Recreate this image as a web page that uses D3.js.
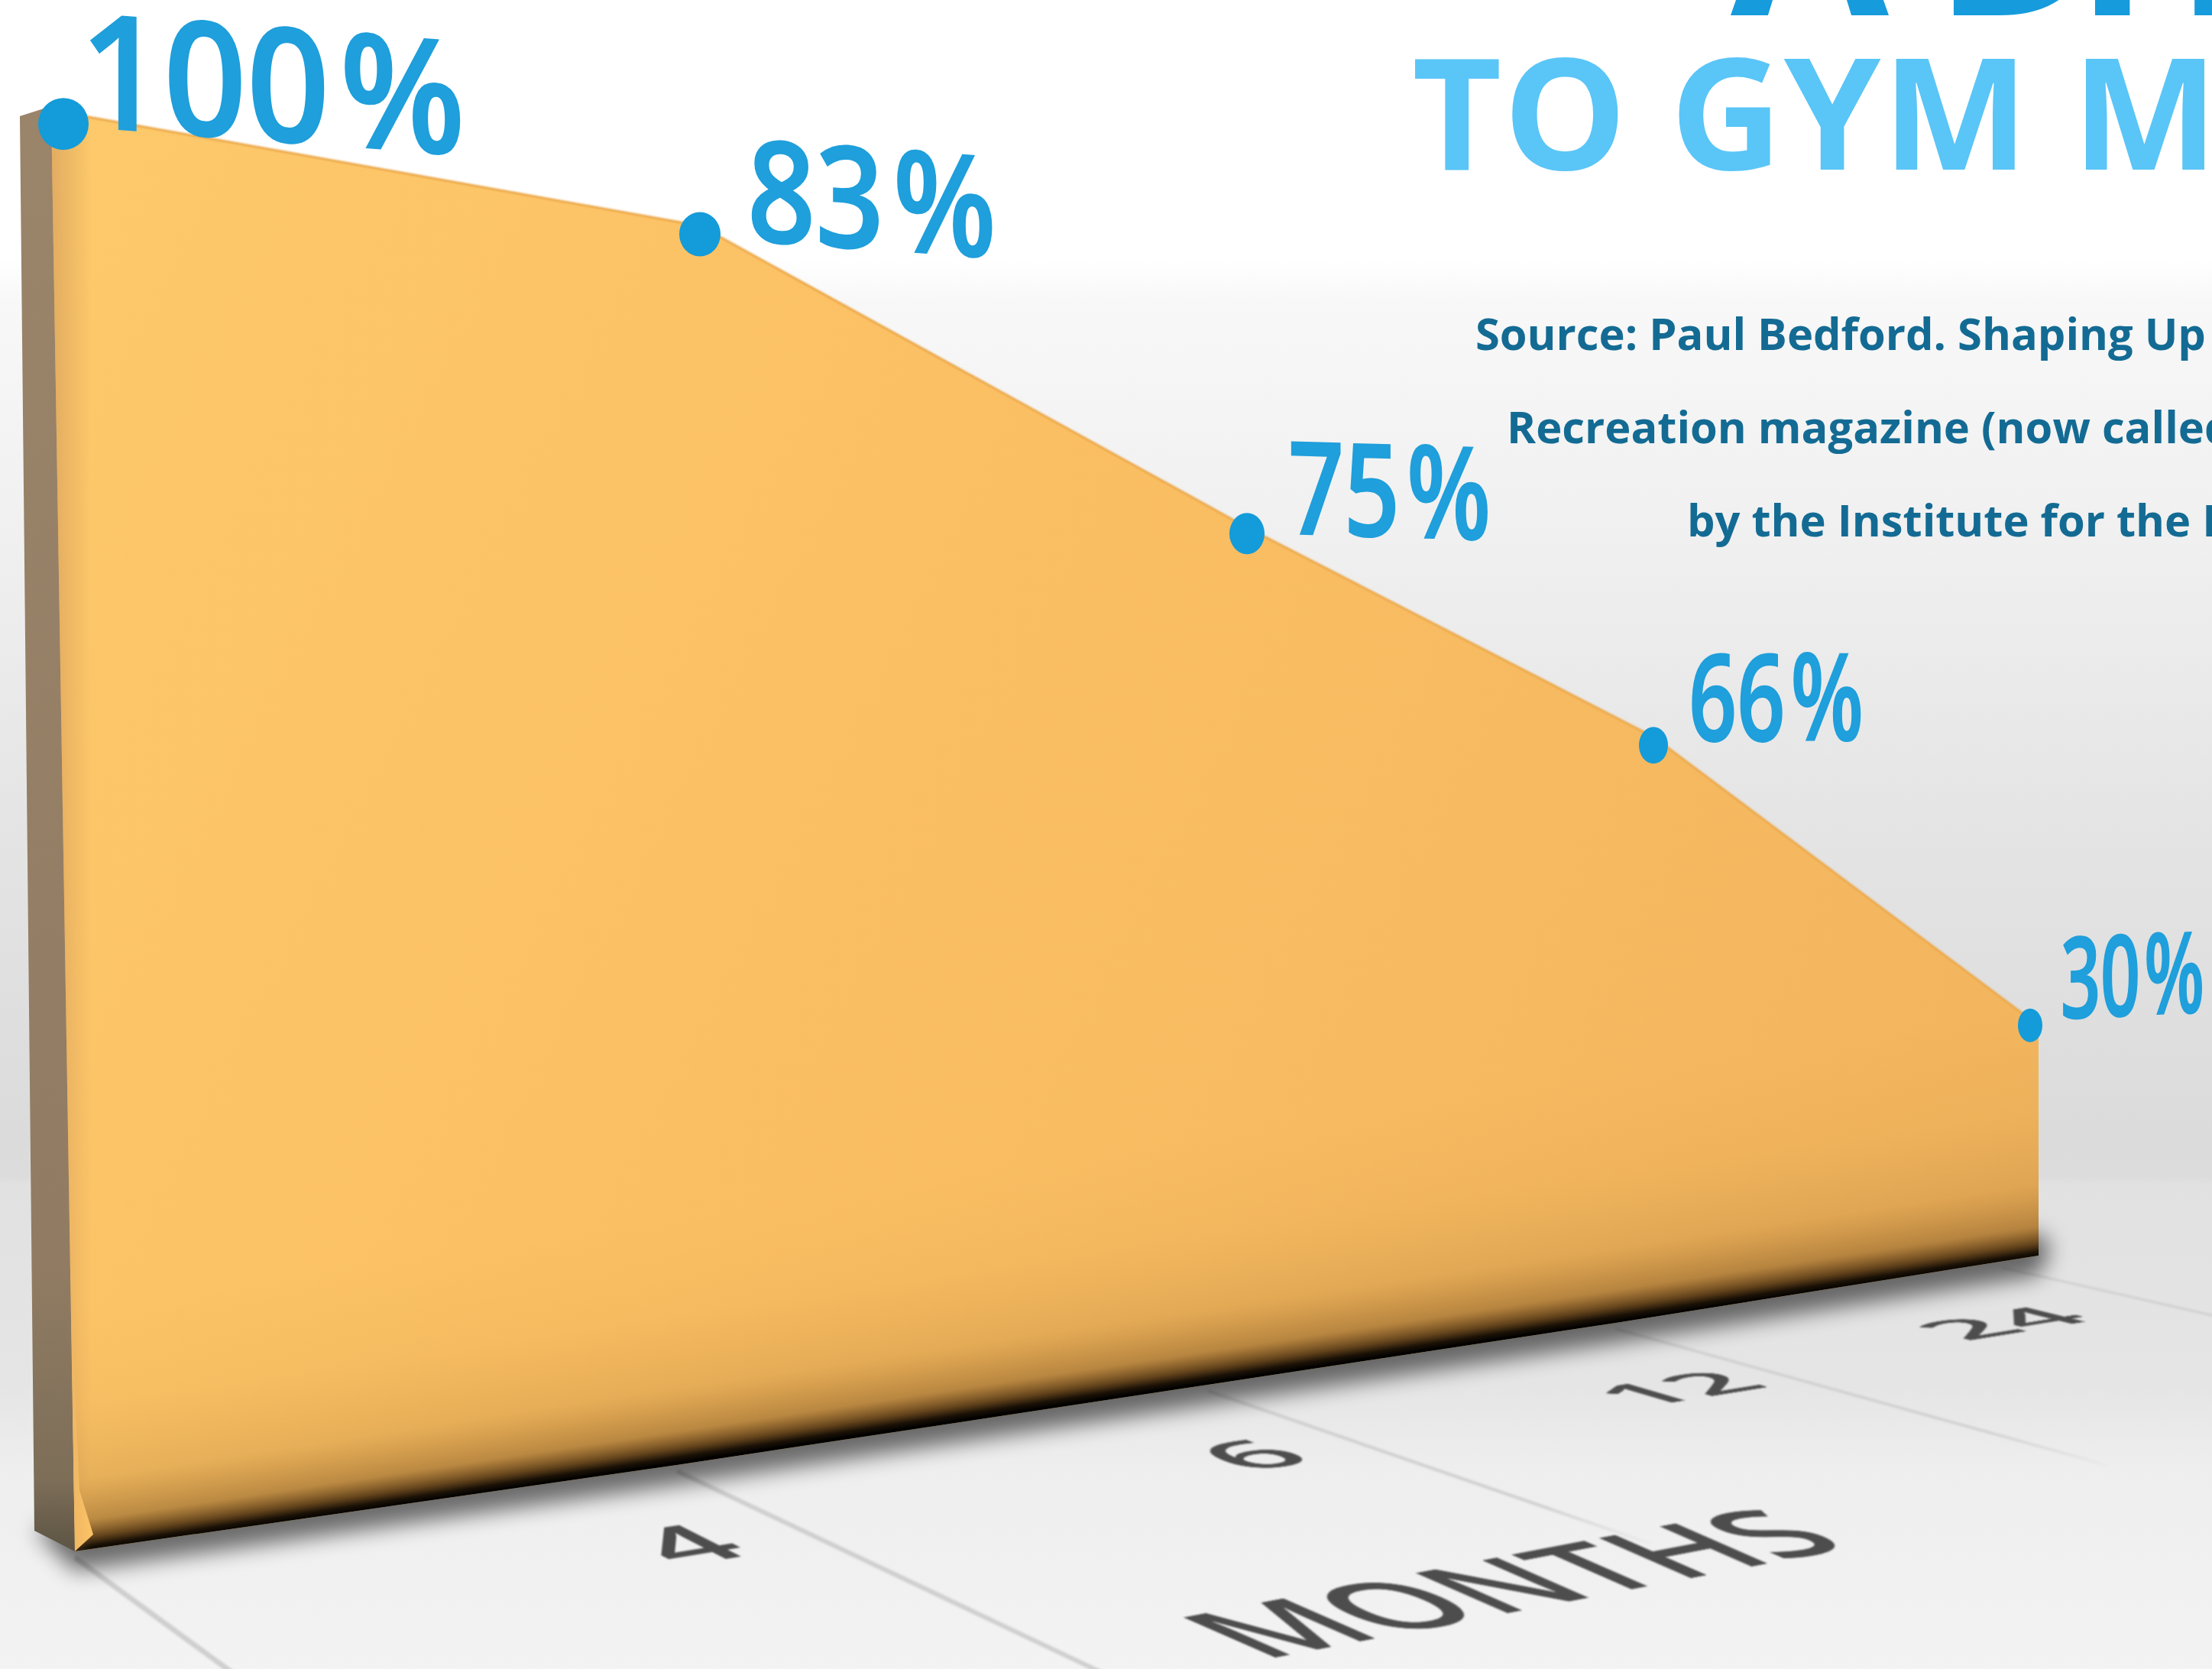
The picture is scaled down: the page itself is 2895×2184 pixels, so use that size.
<!DOCTYPE html>
<html>
<head>
<meta charset="utf-8">
<style>
  html, body { margin: 0; padding: 0; background: #fff; overflow: hidden; }
  svg { display: block; }
  text { font-family: "Open Sans", "Noto Sans", sans-serif; }
</style>
<script src="https://cdn.jsdelivr.net/npm/d3@7/dist/d3.min.js"></script>
</head>
<body>
<script>
// Retention of gym members over time
const months = [0, 4, 6, 12, 24];
const adherence = [100, 83, 75, 66, 30];
const tickMonths = [4, 6, 12, 24];
const tickLabels = ["4", "6", "12", "24"];
const axisTitle = "MONTHS";
const titleLines = ["ADHERENCE", "TO GYM MEMBERSHIPS"];
const sourceLines = [
  "Source: Paul Bedford. Shaping Up",
  "Recreation magazine (now called",
  "by the Institute for the Health"
];

const W = 2895, H = 2184;
const svg = d3.select("body").append("svg").attr("width", W).attr("height", H);
const defs = svg.append("defs");

// Position along the wall's base, with the foreshortening of the 3D view
const x = d3.scaleLinear().domain(months).range([83, 916, 1632, 2164, 2657]);
// Height of the wall above its base for a given percentage, foreshortened likewise
const wallHeight = d3.scaleLinear().domain([0, 30, 66, 75, 83, 100]).range([0, 311, 759, 1114, 1617, 1885]);
// Base line of the wall, running up towards the right with a slight sag
const baseY = d3.scaleLinear().domain([98, 886, 1581, 2115, 2668]).range([2030, 1917, 1812, 1731, 1643]);
// Vanishing point of the floor's month lines
const vp = [-1790, 656];

const topY = (m, v) => baseY(x(m)) - wallHeight(v);
const points = months.map((m, i) => ({ m, v: adherence[i], i, px: x(m), py: topY(m, adherence[i]) }));

// ---- Backdrop: white at the top, wall grey, then lighter floor
const bg = defs.append("linearGradient").attr("id", "bg").attr("x1", 0).attr("x2", 0).attr("y1", 0).attr("y2", 1);
[[0, "#ffffff"], [0.155, "#ffffff"], [0.18, "#f8f8f8"], [0.32, "#f0f0f0"], [0.5, "#e4e4e4"], [0.68, "#dbdbdb"], [0.705, "#dcdcdc"],
 [0.71, "#e1e1e1"], [0.83, "#e5e5e5"], [0.88, "#eeeeee"], [1, "#f3f3f3"]]
  .forEach(([o, c]) => bg.append("stop").attr("offset", o).attr("stop-color", c));
svg.append("rect").attr("width", W).attr("height", H).attr("fill", "url(#bg)");

const addBlur = (id, s) => defs.append("filter").attr("id", id)
  .attr("x", "-20%").attr("y", "-20%").attr("width", "140%").attr("height", "140%")
  .append("feGaussianBlur").attr("stdDeviation", s);
addBlur("soft", 1.5);
addBlur("shadow", 14);
addBlur("glyphSoft", 1.1);
addBlur("rim", 1);

// ---- Floor month lines radiating from the vanishing point
const gridEndX = d3.scaleOrdinal().domain(months).range([320, 1440, 2160, 2760, 2900]);
const gridWidth = d3.scaleOrdinal().domain(months).range([7, 6, 4, 3.5, 3]);
const gridShift = d3.scaleOrdinal().domain(months).range([15, -30, -51, -49, -37]);
const gridGroup = svg.append("g").attr("filter", "url(#soft)");
months.forEach(m => {
  const x0 = x(m) + gridShift(m), y0 = baseY(x0) + 8;
  const slope = (y0 - vp[1]) / (x0 - vp[0]);
  const x1 = gridEndX(m);
  const gid = "gridFade" + m;
  const g = defs.append("linearGradient").attr("id", gid).attr("gradientUnits", "userSpaceOnUse")
    .attr("x1", x0).attr("y1", y0).attr("x2", x1).attr("y2", y0 + slope * (x1 - x0));
  g.append("stop").attr("offset", 0.75).attr("stop-color", "#cfcfcf");
  g.append("stop").attr("offset", 1).attr("stop-color", "#cfcfcf").attr("stop-opacity", m === 6 || m === 12 ? 0.1 : 1);
  gridGroup.append("line").attr("x1", x0).attr("y1", y0).attr("x2", x1).attr("y2", y0 + slope * (x1 - x0))
    .attr("stroke", `url(#${gid})`).attr("stroke-width", gridWidth(m));
});

// ---- Cast shadow on the floor beneath the wall
const baseL = 98, baseR = 2668;
const baseSamples = baseY.domain();
svg.append("path")
  .attr("d", d3.line()([[45, 2002], ...baseSamples.map(b => [b, baseY(b) + 26]), [baseR + 16, baseY(baseR) - 10], [baseR, baseY(baseR) - 30], [baseL, baseY(baseL) - 40]]) + "Z")
  .attr("fill", "#000").attr("opacity", 0.55).attr("filter", "url(#shadow)");

// ---- Thin side of the wall
const side = defs.append("linearGradient").attr("id", "side").attr("x1", 0).attr("x2", 0).attr("y1", 0).attr("y2", 1);
[[0, "#9a846a"], [0.8, "#917c63"], [0.95, "#7d6e58"], [1, "#5d5444"]].forEach(([o, c]) => side.append("stop").attr("offset", o).attr("stop-color", c));
svg.append("path")
  .attr("d", d3.line()([[26, 152], [70, 138], [98, baseY(baseL)], [45, 2003]]) + "Z")
  .attr("fill", "url(#side)");

// ---- Front face of the wall, its top edge following the adherence values
const lastP = points[points.length - 1];
const firstSlope = (points[1].py - points[0].py) / (points[1].px - points[0].px);
const lastSlope = (lastP.py - points[3].py) / (lastP.px - points[3].px);
const topEdge = [
  [67, points[0].py + firstSlope * (67 - points[0].px)],
  ...points.map(d => [d.px, d.py]),
  [baseR, lastP.py + lastSlope * (baseR - lastP.px)]
];
const baseEdge = baseSamples.slice().reverse().map(b => [b, baseY(b)]);
const facePath = d3.line()([...topEdge, ...baseEdge]) + "Z";

const face = defs.append("linearGradient").attr("id", "face").attr("gradientUnits", "userSpaceOnUse")
  .attr("x1", 100).attr("y1", 200).attr("x2", 2650).attr("y2", 1500);
[[0, "#fdc96a"], [0.45, "#fbbf63"], [1, "#f2b55e"]].forEach(([o, c]) => face.append("stop").attr("offset", o).attr("stop-color", c));
svg.append("path").attr("d", facePath).attr("fill", "url(#face)");

// Darkening towards the base, parallel to the base line; mitred at the near corner
const chordSlope = (baseY(baseR) - baseY(baseL)) / (baseR - baseL);
const nLen = Math.hypot(chordSlope, 1);
const darkDepth = 320;
const midX = (baseL + baseR) / 2, midY = baseY(midX) - 2;
const dark = defs.append("linearGradient").attr("id", "baseDark").attr("gradientUnits", "userSpaceOnUse")
  .attr("x1", midX).attr("y1", midY)
  .attr("x2", midX + chordSlope / nLen * darkDepth).attr("y2", midY - 1 / nLen * darkDepth);
[[0, "#000", 1], [0.025, "#150d04", 0.97], [0.06, "#4a2f10", 0.85], [0.13, "#7a5220", 0.5], [0.3, "#9c6c2c", 0.22], [0.6, "#b98238", 0.08], [1, "#c08a3c", 0]]
  .forEach(([o, c, a]) => dark.append("stop").attr("offset", o).attr("stop-color", c).attr("stop-opacity", a));
svg.append("path")
  .attr("d", d3.line()([[baseL, baseY(baseL)], [122, 2008], [104, 1950], [93, 1700], [86, 1300], [baseR, 1300], ...baseEdge.slice(0, -1)]) + "Z")
  .attr("fill", "url(#baseDark)");

// Soft shade down the inner left edge
const inner = defs.append("linearGradient").attr("id", "innerLeft").attr("gradientUnits", "userSpaceOnUse")
  .attr("x1", 70).attr("y1", 0).attr("x2", 120).attr("y2", 0);
inner.append("stop").attr("offset", 0).attr("stop-color", "#c9925a").attr("stop-opacity", 0.5);
inner.append("stop").attr("offset", 1).attr("stop-color", "#c9925a").attr("stop-opacity", 0);
svg.append("path").attr("d", facePath).attr("fill", "url(#innerLeft)");

// Slightly darker rim along the top edge
svg.append("path")
  .attr("d", d3.line()(topEdge))
  .attr("fill", "none").attr("stroke", "#eca94c").attr("stroke-width", 3).attr("filter", "url(#rim)");

// ---- Point markers sit just below the top edge
const dotRx = d3.scaleOrdinal().domain(months).range([33, 27, 23, 19, 16]);
const dotRy = d3.scaleOrdinal().domain(months).range([34, 29, 27, 24, 22]);
const dotDrop = d3.scaleOrdinal().domain(months).range([15, 11, 8, 11, 8]);
svg.append("g").selectAll("ellipse").data(points).join("ellipse")
  .attr("cx", d => d.px).attr("cy", d => d.py + dotDrop(d.m))
  .attr("rx", d => dotRx(d.m)).attr("ry", d => dotRy(d.m))
  .attr("fill", "#149bd9");

// ---- Percentage labels, sized and skewed by their depth in the scene
const labelSize = d3.scaleOrdinal().domain(months).range([207, 184, 168, 158, 147]);
const labelWidth = d3.scaleOrdinal().domain(months).range([0.92, 0.85, 0.76, 0.7, 0.62]);
const labelSlope = d3.scaleOrdinal().domain(months).range([0.075, 0.07, 0.03, 0.0, -0.045]);
const labelDx = d3.scaleOrdinal().domain(months).range([22, 62, 54, 46, 40]);
const labelDy = d3.scaleOrdinal().domain(months).range([18, 19, 8, 5, -1]);
const labelGap = d3.scaleOrdinal().domain(months).range([14, 14, 12, 10, 8]);
const pctLabels = svg.append("g").selectAll("text").data(points).join("text")
  .attr("transform", d => {
    const sx = labelWidth(d.m);
    return `matrix(${sx},${labelSlope(d.m) * sx},0,1,${d.px + labelDx(d.m)},${d.py + labelDy(d.m)})`;
  })
  .attr("font-size", d => labelSize(d.m)).attr("font-weight", 600)
  .attr("fill", "#1f9fdb").attr("stroke", "#1f9fdb").attr("stroke-width", 2);
pctLabels.append("tspan").text(d => d.v);
pctLabels.append("tspan").attr("dx", d => labelGap(d.m)).text("%");

// ---- Title and source, running off the right edge
svg.append("text").attr("x", "2265 2530 2715").attr("y", 20).attr("font-size", 300).attr("font-weight", 700)
  .attr("fill", "#169bdc").text(titleLines[0]);
svg.append("text").attr("x", 1848).attr("y", 222).attr("font-size", 203).attr("font-weight", 700)
  .attr("letter-spacing", 2).attr("fill", "#5ac5f7").text(titleLines[1]);
const sourceX = [1931, 1972, 2208], sourceY = [458, 580, 702];
svg.append("g").selectAll("text").data(sourceLines).join("text")
  .attr("x", (d, i) => sourceX[i]).attr("y", (d, i) => sourceY[i])
  .attr("font-size", 57.8).attr("font-weight", 700).attr("fill", "#136b94")
  .text(d => d);

// ---- Month labels lying flat on the floor
const floorMatrix = (px, py, s) => {
  const dx = px - vp[0], dy = py - vp[1], len = Math.hypot(dx, dy);
  const ux = dx / len, uy = dy / len;
  return `matrix(${1.3 * s},${-0.21 * s},${0.94 * s * ux},${0.94 * s * uy},${px},${py})`;
};
const tickDx = d3.scaleOrdinal().domain(tickMonths).range([-16, 8, 33, -35]);
const tickDy = d3.scaleOrdinal().domain(tickMonths).range([109, 100, 94, 87]);
const tickScale = d3.scaleOrdinal().domain(tickMonths).range([1.35, 1.28, 1.16, 1.17]);
const floorGroup = svg.append("g").attr("filter", "url(#glyphSoft)");
floorGroup.selectAll("text.tick").data(tickMonths).join("text").attr("class", "tick")
  .attr("text-anchor", "middle").attr("font-size", 100).attr("font-weight", 600).attr("fill", "#4d4d4d")
  .attr("transform", m => {
    const cx = x(m) + tickDx(m), cy = baseY(x(m)) + tickDy(m);
    return floorMatrix(cx, cy, tickScale(m)) + " translate(0,35)";
  })
  .text((m, i) => tickLabels[i]);

// Axis title, skewed into the floor plane
floorGroup.append("text")
  .attr("transform", "matrix(1.78,-0.34,1.67,0.73,1652,2172)")
  .attr("font-size", 100).attr("font-weight", 600).attr("fill", "#4d4d4d")
  .text(axisTitle);
</script>
</body>
</html>
